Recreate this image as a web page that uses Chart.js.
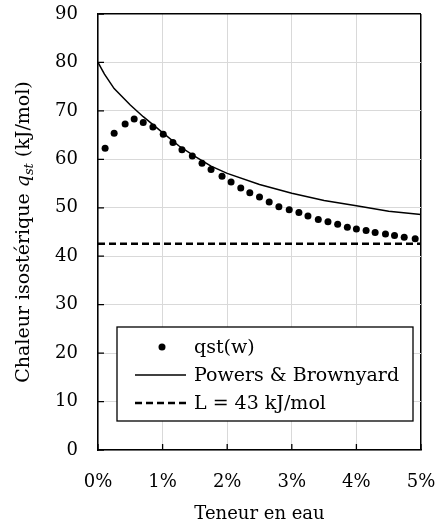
<!DOCTYPE html>
<html>
<head>
<meta charset="utf-8">
<script src="https://cdn.jsdelivr.net/npm/chart.js@4"></script>
<style>
    html, body { margin: 0; padding: 0; background: #fff; }
</style>
</head>
<body>
<canvas id="chart" width="437" height="527"></canvas>
<script>
// Teneur en eau (%) / chaleur isostérique mesurée (kJ/mol)
const qstW = [0.11, 0.25, 0.42, 0.56, 0.70, 0.85, 1.01, 1.16, 1.30, 1.46,
    1.61, 1.75, 1.92, 2.06, 2.21, 2.35, 2.50, 2.65, 2.80, 2.96,
    3.11, 3.25, 3.41, 3.56, 3.71, 3.86, 4.00, 4.15, 4.29, 4.45,
    4.59, 4.74, 4.91];
const qstValues = [62.3, 65.4, 67.3, 68.3, 67.6, 66.7, 65.2, 63.5, 62.0, 60.7,
    59.2, 57.9, 56.5, 55.3, 54.1, 53.1, 52.2, 51.2, 50.2, 49.6,
    49.0, 48.3, 47.6, 47.1, 46.6, 46.0, 45.6, 45.3, 44.9, 44.6,
    44.3, 43.9, 43.6];

// Powers & Brownyard
const pbW = [0, 0.1, 0.25, 0.5, 0.7, 1.0, 1.25, 1.5, 1.75, 2.0, 2.5, 3.0, 3.5, 4.0, 4.5, 5.0];
const pbValues = [80, 77.6, 74.6, 71.2, 68.8, 65.5, 62.8, 60.6, 58.6, 57.1, 54.8, 53.0, 51.5, 50.4, 49.3, 48.6];

// Chaleur latente L
const latentW = [0, 5];
const latentValues = [42.6, 42.6];

const seriesLabels = ['qst(w)', 'Powers & Brownyard', 'L = 43 kJ/mol'];
const xTitle = 'Teneur en eau';

const FONT = "'DejaVu Serif', serif";
const GRID = '#d9d9d9';

function toPoints(xs, ys) {
    return xs.map((x, i) => ({ x: x, y: ys[i] }));
}

// Axis title, inner tick marks and framed legend
const extras = {
    id: 'extras',
    afterDatasetsDraw(chart) {
        const ctx = chart.ctx;
        const ca = chart.chartArea;
        const xs = chart.scales.x;
        const ys = chart.scales.y;

        // inner ticks
        ctx.save();
        ctx.strokeStyle = '#000';
        ctx.lineWidth = 1.3;
        ctx.beginPath();
        xs.ticks.forEach(t => {
            const px = xs.getPixelForValue(t.value);
            ctx.moveTo(px, ca.bottom);
            ctx.lineTo(px, ca.bottom - 6);
        });
        ys.ticks.forEach(t => {
            const py = ys.getPixelForValue(t.value);
            ctx.moveTo(ca.left, py);
            ctx.lineTo(ca.left + 6, py);
        });
        ctx.stroke();
        ctx.restore();

        // y title with italic q and subscript st
        const parts = [
            { t: 'Chaleur isostérique ', f: '19px ' + FONT, dy: 0 },
            { t: 'q', f: 'italic 19px ' + FONT, dy: 0 },
            { t: 'st', f: 'italic 13px ' + FONT, dy: 4 },
            { t: ' (kJ/mol)', f: '19px ' + FONT, dy: 0 }
        ];
        let total = 0;
        parts.forEach(p => {
            ctx.font = p.f;
            p.w = ctx.measureText(p.t).width;
            total += p.w;
        });
        ctx.save();
        ctx.translate(29, (ca.top + ca.bottom) / 2);
        ctx.rotate(-Math.PI / 2);
        ctx.fillStyle = '#000';
        ctx.textBaseline = 'alphabetic';
        ctx.textAlign = 'left';
        let cx = -total / 2;
        parts.forEach(p => {
            ctx.font = p.f;
            ctx.fillText(p.t, cx, p.dy);
            cx += p.w;
        });
        ctx.restore();

        // legend
        const w = 296, h = 94;
        const left = ca.right - 8 - w;
        const top = ca.bottom - 29 - h;
        ctx.save();
        ctx.fillStyle = '#fff';
        ctx.fillRect(left, top, w, h);
        ctx.strokeStyle = '#000';
        ctx.lineWidth = 1.3;
        ctx.strokeRect(left, top, w, h);
        ctx.font = '19px ' + FONT;
        ctx.textBaseline = 'middle';
        ctx.textAlign = 'left';
        chart.data.datasets.forEach((ds, i) => {
            const cy = top + 20 + i * 28;
            ctx.fillStyle = '#000';
            ctx.strokeStyle = '#000';
            if (i === 0) {
                ctx.beginPath();
                ctx.arc(left + 45, cy, 3.5, 0, Math.PI * 2);
                ctx.fill();
            } else {
                ctx.beginPath();
                ctx.lineWidth = ds.borderWidth;
                ctx.setLineDash(ds.borderDash || []);
                ctx.moveTo(left + 18, cy);
                ctx.lineTo(left + 69, cy);
                ctx.stroke();
                ctx.setLineDash([]);
            }
            ctx.fillText(ds.label, left + 77, cy + 1);
        });
        ctx.restore();
    }
};

Chart.defaults.color = '#000';
Chart.defaults.font.family = FONT;
Chart.defaults.font.size = 18;

new Chart(document.getElementById('chart'), {
    type: 'scatter',
    data: {
        datasets: [
            {
                label: seriesLabels[0],
                data: toPoints(qstW, qstValues),
                backgroundColor: '#000',
                borderColor: '#000',
                borderWidth: 0,
                pointRadius: 3.5,
                showLine: false
            },
            {
                label: seriesLabels[1],
                data: toPoints(pbW, pbValues),
                borderColor: '#000',
                borderWidth: 1.5,
                pointRadius: 0,
                showLine: true,
                tension: 0
            },
            {
                label: seriesLabels[2],
                data: toPoints(latentW, latentValues),
                borderColor: '#000',
                borderWidth: 2.5,
                borderDash: [7, 4],
                pointRadius: 0,
                showLine: true
            }
        ]
    },
    options: {
        responsive: false,
        animation: false,
        devicePixelRatio: 1,
        layout: {
            autoPadding: false,
            padding: { top: 14, right: 16, left: 0, bottom: 0 }
        },
        plugins: {
            legend: { display: false },
            tooltip: { enabled: false }
        },
        scales: {
            x: {
                type: 'linear',
                min: 0,
                max: 5,
                afterFit: function(scale) {
                    scale.height = 77;
                    scale.paddingLeft = 0;
                    scale.paddingRight = 0;
                },
                ticks: {
                    stepSize: 1,
                    padding: 22,
                    maxRotation: 0,
                    callback: function(value) { return value + '%'; }
                },
                grid: {
                    drawTicks: false,
                    color: ctx => (ctx.tick && ctx.tick.value === 5) ? '#000' : GRID,
                    lineWidth: ctx => (ctx.tick && ctx.tick.value === 5) ? 1.5 : 1
                },
                border: { color: '#000', width: 1.5 },
                title: {
                    display: true,
                    text: xTitle,
                    padding: { top: 0, bottom: 2 }
                }
            },
            y: {
                min: 0,
                max: 90,
                afterFit: function(scale) {
                    scale.width = 98;
                    scale.paddingTop = 0;
                    scale.paddingBottom = 0;
                },
                ticks: {
                    stepSize: 10,
                    padding: 20
                },
                grid: {
                    drawTicks: false,
                    color: ctx => (ctx.tick && ctx.tick.value === 90) ? '#000' : GRID,
                    lineWidth: ctx => (ctx.tick && ctx.tick.value === 90) ? 1.5 : 1
                },
                border: { color: '#000', width: 1.5 }
            }
        }
    },
    plugins: [extras]
});
</script>
</body>
</html>
